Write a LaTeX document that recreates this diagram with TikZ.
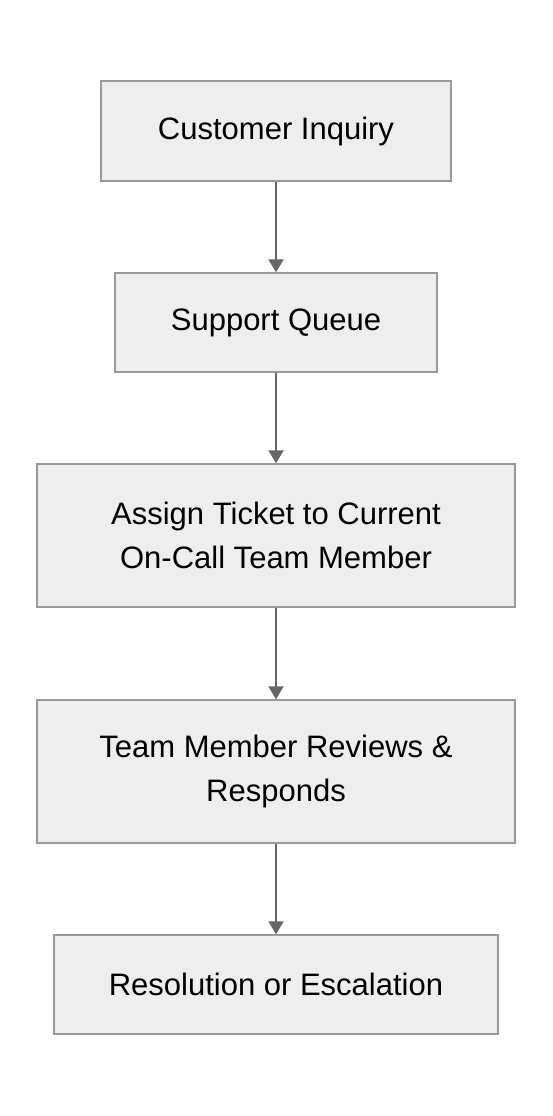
\documentclass[tikz,border=0pt]{standalone}
\usepackage{fontspec}
\setmainfont{Liberation Sans}
\usetikzlibrary{arrows.meta}
\definecolor{boxfill}{HTML}{EEEEEE}
\definecolor{boxline}{HTML}{999999}
\definecolor{arrowc}{HTML}{666666}
\tikzset{
  flowbox/.style={draw=boxline, fill=boxfill, line width=1.4pt, rectangle, inner sep=0pt, align=center,
    font=\fontsize{31}{44}\selectfont},
  flowarrow/.style={draw=arrowc, line width=2pt, -{Triangle[width=15pt,length=13pt]}}
}
\begin{document}
\begin{tikzpicture}[x=1pt,y=-1pt]
\useasboundingbox (0,0) rectangle (552,1116);
\node[flowbox, minimum width=350pt, minimum height=100pt] (a) at (276,131) {\raisebox{-2pt}{Customer Inquiry}};
\node[flowbox, minimum width=322pt, minimum height=99pt] (b) at (276,322.5) {\raisebox{-2pt}{Support Queue}};
\node[flowbox, minimum width=478pt, minimum height=143pt] (c) at (276,535.5) {Assign Ticket to Current\\On-Call Team Member};
\node[flowbox, minimum width=478pt, minimum height=143pt] (d) at (276,771.5) {Team Member Reviews \&\\Responds};
\node[flowbox, minimum width=444pt, minimum height=99pt] (e) at (276,984.5) {\raisebox{-2pt}{Resolution or Escalation}};
\draw[flowarrow] (a.south) -- (b.north);
\draw[flowarrow] (b.south) -- (c.north);
\draw[flowarrow] (c.south) -- (d.north);
\draw[flowarrow] (d.south) -- (e.north);
\end{tikzpicture}
\end{document}
